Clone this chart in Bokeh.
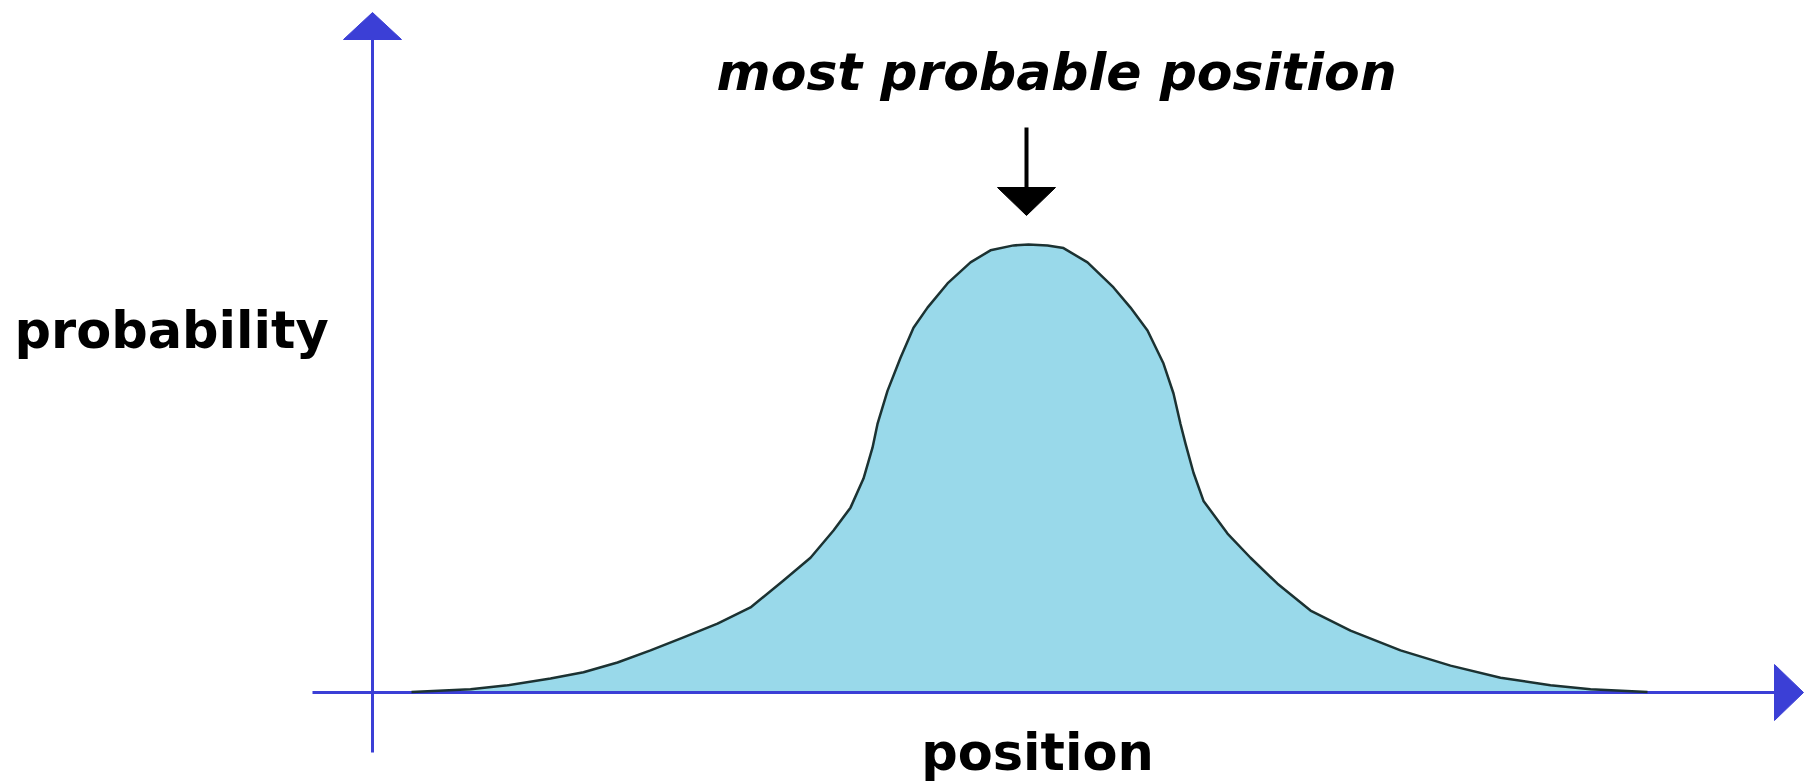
from bokeh.plotting import figure
from bokeh.models import Range1d
from bokeh.core.properties import value
from bokeh.embed import file_html
from bokeh.resources import INLINE

# ---- data ----
position = [-6.17, -5.58, -5.21, -4.78, -4.45, -4.11, -3.78, -3.45, -3.11, -2.78,
            -2.45, -2.18, -1.95, -1.78, -1.65, -1.56, -1.51, -1.41, -1.28, -1.15,
            -1.01, -0.81, -0.58, -0.38, -0.15, 0.0, 0.19, 0.35, 0.59, 0.85,
            1.02, 1.19, 1.35, 1.45, 1.52, 1.57, 1.65, 1.75, 1.99, 2.22,
            2.49, 2.82, 3.22, 3.72, 4.22, 4.72, 5.22, 5.62, 6.19]
probability = [0.0, 0.006, 0.015, 0.030, 0.044, 0.066, 0.093, 0.122, 0.153, 0.189,
               0.249, 0.300, 0.361, 0.412, 0.477, 0.546, 0.599, 0.673, 0.747, 0.814,
               0.859, 0.913, 0.960, 0.987, 0.998, 1.0, 0.998, 0.992, 0.960, 0.904,
               0.859, 0.808, 0.734, 0.667, 0.599, 0.555, 0.490, 0.427, 0.354, 0.300,
               0.242, 0.182, 0.137, 0.093, 0.059, 0.032, 0.015, 0.006, 0.0]
x_label = "position"
y_label = "probability"
annotation = "most probable position"

# ---- layout ----
W, H = 1815, 783
PXU_X, PXU_Y = 100.0, 447.5
X0 = (0 - 1028) / PXU_X
X1 = X0 + W / PXU_X
Y1 = (691.5 - 0) / PXU_Y
Y0 = Y1 - H / PXU_Y

def dx(px):
    return X0 + px / PXU_X

def dy(py):
    return Y1 - py / PXU_Y

p = figure(width=W, height=H, x_range=Range1d(X0, X1), y_range=Range1d(Y0, Y1),
           output_backend="svg", toolbar_location=None, min_border=0,
           x_axis_type=None, y_axis_type=None, outline_line_color=None,
           background_fill_color="white", border_fill_color="white")
p.grid.visible = False

AXIS = "#3b3fd6"
FONT = value("DejaVu Sans")

# filled curve
p.varea(x=position, y1=[0] * len(position), y2=probability, fill_color="#99D9EA")

# axes
p.segment(x0=[dx(372)], y0=[dy(752)], x1=[dx(372)], y1=[dy(36)], line_color=AXIS, line_width=3)
p.segment(x0=[dx(312)], y0=[dy(692)], x1=[dx(1776)], y1=[dy(692)], line_color=AXIS, line_width=3)
p.patch(x=[dx(343), dx(401), dx(372)], y=[dy(39), dy(39), dy(12)], fill_color=AXIS, line_color=AXIS)
p.patch(x=[dx(1774), dx(1774), dx(1803)], y=[dy(664), dy(720), dy(692)], fill_color=AXIS, line_color=AXIS)

# curve outline
p.line(position, probability, line_color="#1c3232", line_width=2.5, line_join="round")

# pointer arrow
peak_x = position[probability.index(max(probability))]
p.segment(x0=[peak_x - 0.02], y0=[dy(127)], x1=[peak_x - 0.02], y1=[dy(190)], line_color="black", line_width=4)
p.patch(x=[peak_x - 0.31, peak_x + 0.27, peak_x - 0.02], y=[dy(187), dy(187), dy(215)],
        fill_color="black", line_color="black")

# texts
p.text(x=[dx(716)], y=[dy(71)], text=[annotation], text_font=FONT, text_font_size="52px",
       text_font_style="bold italic", text_color="black", text_align="left", text_baseline="alphabetic")
p.text(x=[dx(14)], y=[dy(330)], text=[y_label], text_font=FONT, text_font_size="51px",
       text_font_style="bold", text_color="black", text_align="left", text_baseline="alphabetic")
p.text(x=[dx(1037)], y=[dy(752)], text=[x_label], text_font=FONT, text_font_size="51px",
       text_font_style="bold", text_color="black", text_align="center", text_baseline="alphabetic")

open("out.html", "w").write(file_html(p, INLINE))
